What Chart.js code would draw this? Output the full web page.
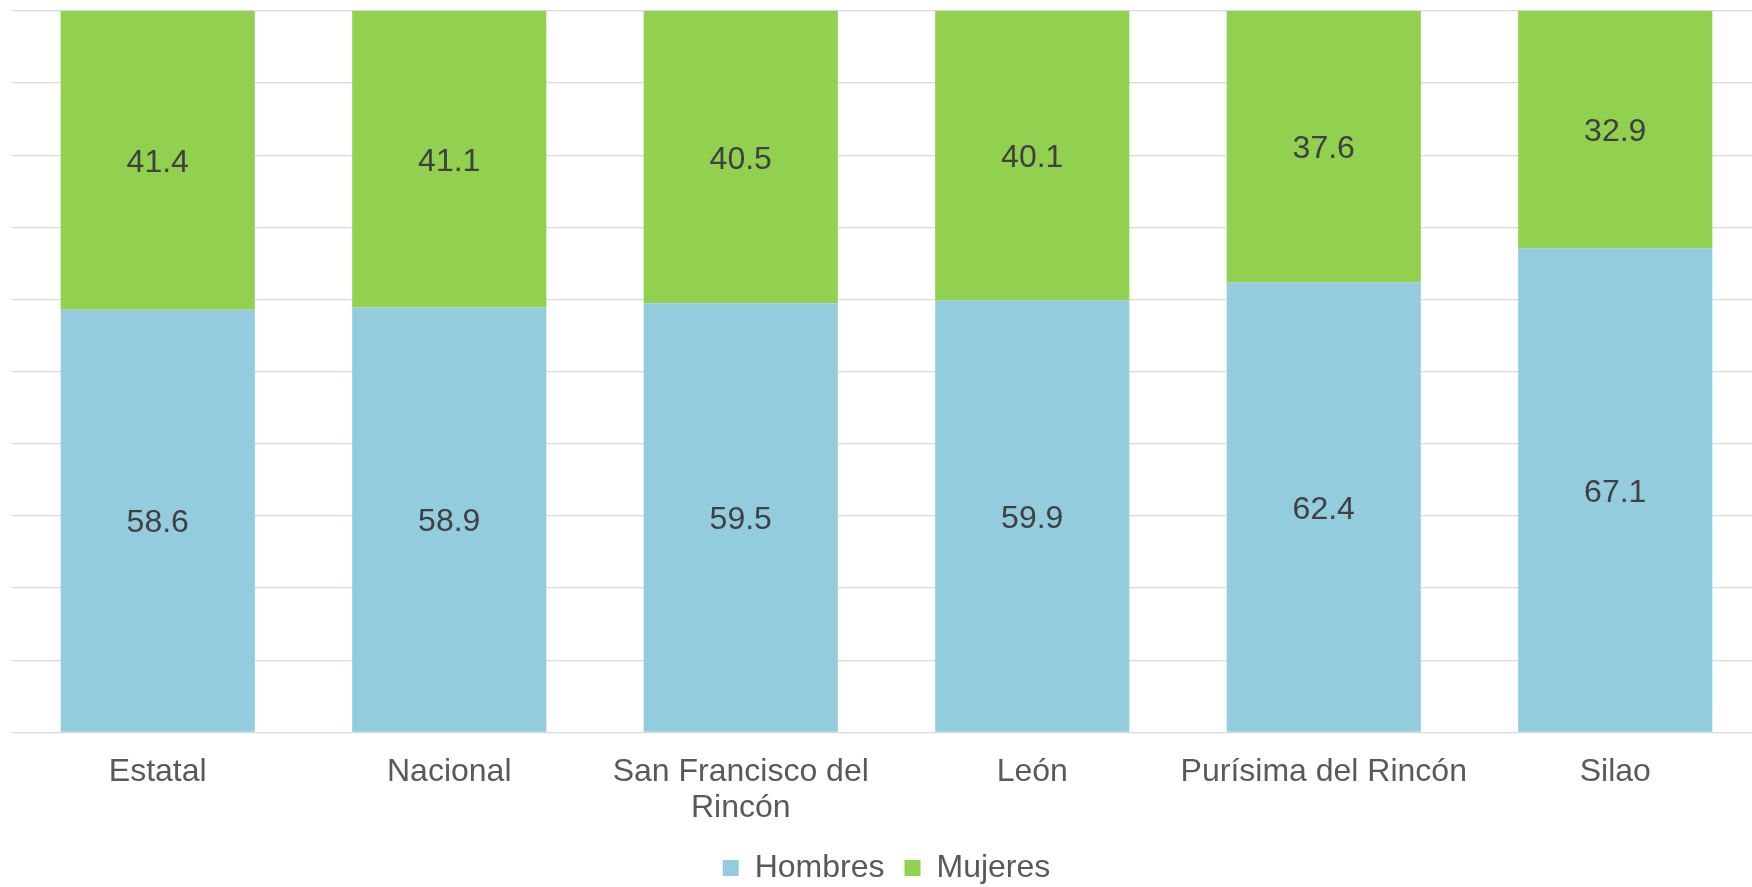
<!DOCTYPE html>
<html>
<head>
<meta charset="utf-8">
<script src="https://cdn.jsdelivr.net/npm/chart.js@4/dist/chart.umd.min.js"></script>
<style>
  html, body { margin: 0; padding: 0; background: #fff; overflow: hidden; }
  #wrap { width: 1761px; height: 887px; }
</style>
</head>
<body>
<div id="wrap"><canvas id="myChart"></canvas></div>
<script>
const categories = ["Estatal", "Nacional", ["San Francisco del", "Rincón"], "León", "Purísima del Rincón", "Silao"];
const hombres = [58.6, 58.9, 59.5, 59.9, 62.4, 67.1];
const mujeres = [41.4, 41.1, 40.5, 40.1, 37.6, 32.9];
const yTicks = [0, 10, 20, 30, 40, 50, 60, 70, 80, 90, 100];

const FONT = "'Liberation Sans', Arial, sans-serif";

// labels centred in each stacked segment
const segmentLabels = {
  id: "segmentLabels",
  afterDatasetsDraw(chart) {
    const ctx = chart.ctx;
    ctx.save();
    ctx.font = "32px " + FONT;
    ctx.fillStyle = "#404040";
    ctx.textAlign = "center";
    ctx.textBaseline = "middle";
    chart.data.datasets.forEach((ds, i) => {
      const meta = chart.getDatasetMeta(i);
      meta.data.forEach((bar, j) => {
        ctx.fillText(ds.data[j].toFixed(1), bar.x, (bar.y + bar.base) / 2 + 3);
      });
    });
    ctx.restore();
  }
};

function main() {
  const ctx = document.getElementById("myChart").getContext("2d");

  const chartOptions = {
    type: "bar",
    data: {
      labels: categories,
      datasets: [
        {
          label: "Hombres",
          backgroundColor: "#93CDDD",
          data: hombres,
        },
        {
          label: "Mujeres",
          backgroundColor: "#92D050",
          data: mujeres,
        },
      ],
    },
    options: {
      responsive: true,
      maintainAspectRatio: false,
      animation: false,
      barPercentage: 0.666,
      categoryPercentage: 1,
      layout: { padding: { top: 11, left: 12, right: 0, bottom: -7 } },
      plugins: {
        tooltip: { enabled: false },
        legend: {
          position: "bottom",
          labels: {
            boxWidth: 16,
            boxHeight: 16,
            padding: 20,
            color: "#595959",
            font: { family: FONT, size: 32, lineHeight: 1 },
          },
        },
      },
      scales: {
        x: {
          stacked: true,
          grid: { display: false, drawTicks: false },
          border: { display: false },
          ticks: {
            color: "#595959",
            padding: 22,
            font: { family: FONT, size: 32, lineHeight: 1.12 },
            maxRotation: 0,
            autoSkip: false,
          },
          afterFit(scale) { scale.height -= 16; },
        },
        y: {
          stacked: true,
          min: yTicks[0],
          max: yTicks[yTicks.length - 1],
          ticks: { display: false, stepSize: yTicks[1] - yTicks[0] },
          grid: { color: "#d9d9d9", lineWidth: 1.3, drawTicks: false },
          border: { display: false },
        },
      },
    },
    plugins: [segmentLabels],
  };

  new Chart(ctx, chartOptions);
}
main();
</script>
</body>
</html>
